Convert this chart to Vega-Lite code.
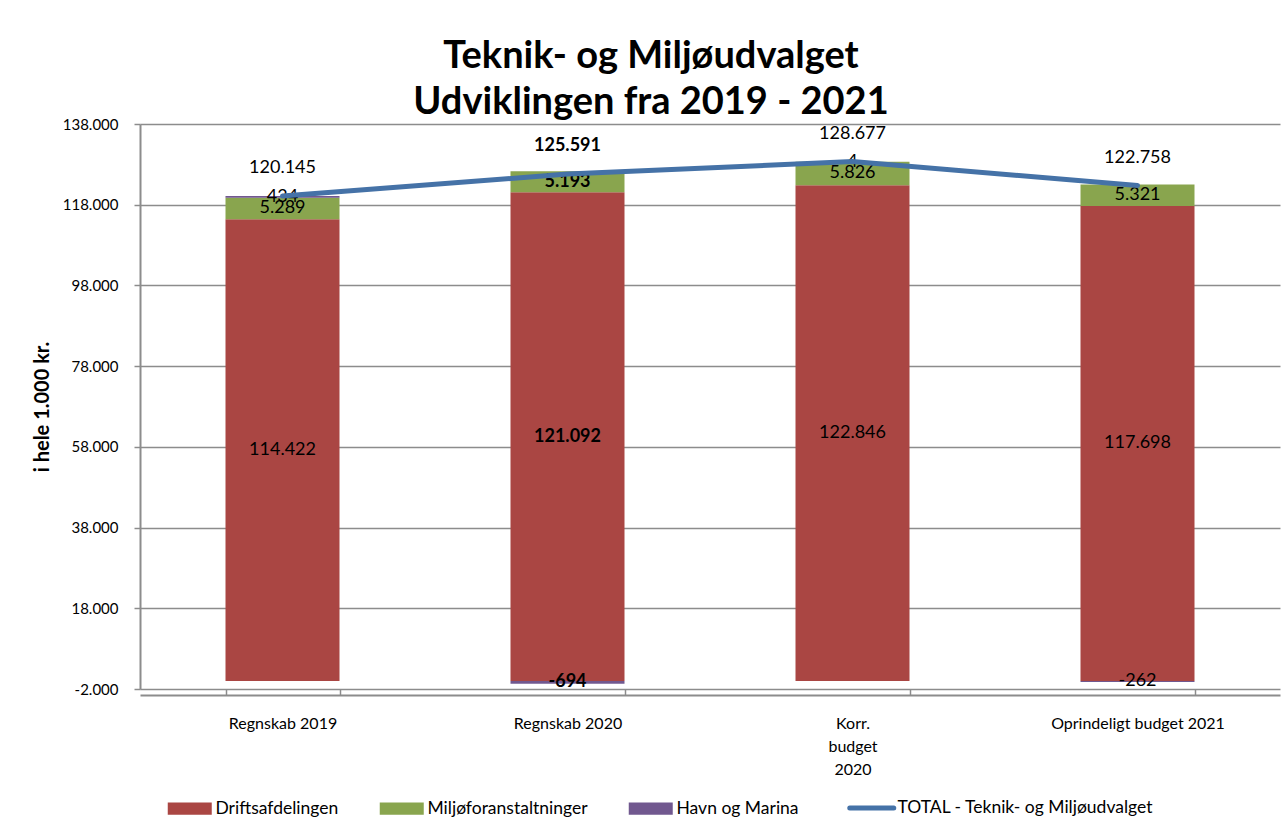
{
  "$schema": "https://vega.github.io/schema/vega-lite/v6.json",
  "autosize": "none",
  "width": 1140,
  "height": 565,
  "padding": {"left": 140, "top": 124, "right": 4, "bottom": 146},
  "background": "white",
  "config": {
    "locale": {"number": {"decimal": ",", "thousands": ".", "grouping": [3], "currency": ["", " kr."], "minus": "-"}},
    "font": "Lato",
    "view": {"stroke": null}
  },
  "title": {
    "text": ["Teknik- og Miljøudvalget", "Udviklingen fra 2019 - 2021"],
    "font": "Lato",
    "fontSize": 38,
    "fontWeight": "bold",
    "lineHeight": 46,
    "anchor": "middle",
    "dx": -59,
    "offset": -5,
    "color": "black"
  },
  "datasets": {
    "bars": [
      {"kat": "Regnskab 2019", "serie": "Driftsafdelingen", "rk": 1, "value": 114422},
      {"kat": "Regnskab 2019", "serie": "Miljøforanstaltninger", "rk": 2, "value": 5289},
      {"kat": "Regnskab 2019", "serie": "Havn og Marina", "rk": 3, "value": 434},
      {"kat": "Regnskab 2020", "serie": "Driftsafdelingen", "rk": 1, "value": 121092},
      {"kat": "Regnskab 2020", "serie": "Miljøforanstaltninger", "rk": 2, "value": 5193},
      {"kat": "Regnskab 2020", "serie": "Havn og Marina", "rk": 3, "value": -694},
      {"kat": "Korr. budget 2020", "serie": "Driftsafdelingen", "rk": 1, "value": 122846},
      {"kat": "Korr. budget 2020", "serie": "Miljøforanstaltninger", "rk": 2, "value": 5826},
      {"kat": "Korr. budget 2020", "serie": "Havn og Marina", "rk": 3, "value": 4},
      {"kat": "Oprindeligt budget 2021", "serie": "Driftsafdelingen", "rk": 1, "value": 117698},
      {"kat": "Oprindeligt budget 2021", "serie": "Miljøforanstaltninger", "rk": 2, "value": 5321},
      {"kat": "Oprindeligt budget 2021", "serie": "Havn og Marina", "rk": 3, "value": -262}
    ],
    "total": [
      {"kat": "Regnskab 2019", "serie": "TOTAL - Teknik- og Miljøudvalget", "total": 120145},
      {"kat": "Regnskab 2020", "serie": "TOTAL - Teknik- og Miljøudvalget", "total": 125591},
      {"kat": "Korr. budget 2020", "serie": "TOTAL - Teknik- og Miljøudvalget", "total": 128677},
      {"kat": "Oprindeligt budget 2021", "serie": "TOTAL - Teknik- og Miljøudvalget", "total": 122758}
    ]
  },
  "encoding": {
    "x": {
      "field": "kat",
      "type": "nominal",
      "sort": ["Regnskab 2019", "Regnskab 2020", "Korr. budget 2020", "Oprindeligt budget 2021"],
      "scale": {"paddingInner": 0.6, "paddingOuter": 0.3},
      "axis": {
        "title": null,
        "labelAngle": 0,
        "labelFont": "Lato",
        "labelFontSize": 16,
        "labelColor": "black",
        "labelPadding": 26,
        "labelLineHeight": 23,
        "labelExpr": "datum.value === 'Korr. budget 2020' ? ['Korr.', 'budget', '2020'] : datum.value",
        "domainColor": "#8c8c8c",
        "domainWidth": 2,
        "offset": 6,
        "tickColor": "#8c8c8c",
        "tickWidth": 1.5,
        "tickSize": -6,
        "tickBand": "extent"
      }
    }
  },
  "layer": [
    {
      "data": {"name": "bars"},
      "transform": [
        {"stack": "value", "groupby": ["kat"], "sort": [{"field": "rk", "order": "ascending"}], "as": ["v0", "v1"]},
        {"calculate": "(datum.v0 + datum.v1) / 2", "as": "vm"}
      ],
      "layer": [
        {
          "mark": {"type": "bar"},
          "encoding": {
            "y": {
              "field": "v1",
              "type": "quantitative",
              "scale": {"domain": [-2000, 138000], "nice": false, "zero": false},
              "axis": {
                "title": "i hele 1.000 kr.",
                "titleFont": "Lato",
                "titleFontSize": 20,
                "titleFontWeight": "bold",
                "titleColor": "black",
                "titlePadding": 10,
                "values": [-2000, 18000, 38000, 58000, 78000, 98000, 118000, 138000],
                "format": ",.0f",
                "labelFont": "Lato",
                "labelFontSize": 15,
                "labelColor": "black",
                "labelPadding": 16,
                "domainColor": "#8c8c8c",
                "domainWidth": 2,
                "tickColor": "#8c8c8c",
                "tickWidth": 1.5,
                "tickSize": 6,
                "grid": true,
                "gridColor": "#8c8c8c",
                "gridWidth": 1.5
              }
            },
            "y2": {"field": "v0"},
            "color": {
              "field": "serie",
              "type": "nominal",
              "scale": {
                "domain": ["Driftsafdelingen", "Miljøforanstaltninger", "Havn og Marina", "TOTAL - Teknik- og Miljøudvalget"],
                "range": ["#AA4643", "#89A54E", "#71588F", "#4572A7"]
              },
              "legend": {
                "orient": "none",
                "legendX": 28,
                "legendY": 675,
                "direction": "horizontal",
                "title": null,
                "columnPadding": 40,
                "labelFont": "Lato",
                "labelFontSize": 17.5,
                "labelColor": "black",
                "labelOffset": 17,
                "labelLimit": 400,
                "symbolOffset": 13,
                "symbolSize": 1936,
                "symbolOpacity": 1,
                "encode": {
                  "symbols": {
                    "update": {
                      "shape": {"signal": "datum.value === 'TOTAL - Teknik- og Miljøudvalget' ? 'M-1,0H1' : 'M-1,-0.28H1V0.28H-1Z'"},
                      "fill": {"signal": "scale('color', datum.value)"},
                      "stroke": {"signal": "scale('color', datum.value)"},
                      "strokeWidth": {"signal": "datum.value === 'TOTAL - Teknik- og Miljøudvalget' ? 5 : 0"},
                      "strokeCap": {"value": "round"},
                      "opacity": {"value": 1},
                      "fillOpacity": {"value": 1},
                      "strokeOpacity": {"value": 1}
                    }
                  }
                }
              }
            }
          }
        },
        {
          "transform": [{"filter": "datum.kat !== 'Regnskab 2020'"}],
          "mark": {"type": "text", "font": "Lato", "fontSize": 18, "color": "black", "baseline": "middle"},
          "encoding": {
            "y": {"field": "vm", "type": "quantitative"},
            "text": {"field": "value", "type": "quantitative", "format": ",.0f"}
          }
        },
        {
          "transform": [{"filter": "datum.kat === 'Regnskab 2020'"}],
          "mark": {"type": "text", "font": "Lato", "fontSize": 18, "fontWeight": "bold", "color": "black", "baseline": "middle"},
          "encoding": {
            "y": {"field": "vm", "type": "quantitative"},
            "text": {"field": "value", "type": "quantitative", "format": ",.0f"}
          }
        }
      ]
    },
    {
      "data": {"name": "total"},
      "layer": [
        {
          "mark": {"type": "line", "strokeWidth": 5, "strokeCap": "round"},
          "encoding": {
            "y": {"field": "total", "type": "quantitative"},
            "color": {"field": "serie", "type": "nominal"}
          }
        },
        {
          "transform": [{"filter": "datum.kat !== 'Regnskab 2020'"}],
          "mark": {"type": "text", "font": "Lato", "fontSize": 18, "color": "black", "dy": -28, "baseline": "middle"},
          "encoding": {
            "y": {"field": "total", "type": "quantitative"},
            "text": {"field": "total", "type": "quantitative", "format": ",.0f"}
          }
        },
        {
          "transform": [{"filter": "datum.kat === 'Regnskab 2020'"}],
          "mark": {"type": "text", "font": "Lato", "fontSize": 18, "fontWeight": "bold", "color": "black", "dy": -28, "baseline": "middle"},
          "encoding": {
            "y": {"field": "total", "type": "quantitative"},
            "text": {"field": "total", "type": "quantitative", "format": ",.0f"}
          }
        }
      ]
    }
  ]
}
